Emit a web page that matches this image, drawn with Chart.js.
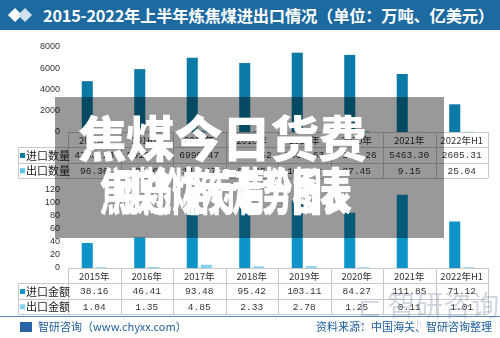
<!DOCTYPE html>
<html><head><meta charset="utf-8">
<script src="https://cdn.jsdelivr.net/npm/chart.js@4.4.0/dist/chart.umd.min.js"></script>
<style>
html,body{margin:0;padding:0;background:#fff;width:500px;height:338px;overflow:hidden;position:relative;font-family:"Noto Sans CJK SC",sans-serif}
#title{position:absolute;left:0;top:0;width:500px;height:30px;background:#1d6aa0;color:#fff;font-weight:bold;font-size:16.3px;line-height:30px;white-space:nowrap}
#title span{position:absolute;left:43px;top:0;letter-spacing:-0.2px}
.dia{position:absolute;width:10px;height:10px;transform:rotate(45deg)}
canvas{position:absolute;left:0}
#c1{top:30px}
#c2{top:176px}
#ov{position:absolute;left:55px;top:97px;width:389px;height:141px;background:rgba(0,0,0,0.4)}
.big{position:absolute;color:#fff;font-weight:900;white-space:nowrap}
#line{position:absolute;left:0;top:316px;width:500px;height:1px;background:#5b88b8}
#f1{position:absolute;left:20px;top:318px;font-size:11px;color:#1f5f9a;white-space:nowrap}
#f2{position:absolute;right:8px;top:318px;font-size:11px;color:#1f5f9a;white-space:nowrap}
.wm{position:absolute;color:rgba(120,140,170,0.35);white-space:nowrap}
</style></head><body>
<div id="title"><div class="dia" style="left:10px;top:10px;background:#fff"></div><div class="dia" style="left:20px;top:10px;background:#cfe0ee"></div><span>2015-2022年上半年炼焦煤进出口情况（单位：万吨、亿美元）</span></div>
<canvas id="c1" width="500" height="150"></canvas>
<canvas id="c2" width="500" height="140"></canvas>
<div class="wm" style="left:358px;top:284px;font-size:28px;">⊏ 智研咨询</div>
<div class="wm" style="left:340px;top:316px;font-size:10px;letter-spacing:9px;">www.chyxx.com</div>
<div id="line"></div>
<div id="f1"><span style="display:inline-block;width:12px;height:10px;background:#2a62a8;vertical-align:-1px;margin-right:6px"></span>智研咨询（www.chyxx.com）</div>
<div id="f2">资料来源：中国海关、智研咨询整理</div>
<div id="ov"></div>
<div class="big" style="left:78px;top:108px;font-size:49px;line-height:56px;letter-spacing:-1px">焦煤今日货费</div>
<div class="big" style="left:100px;top:160px;font-size:50px;line-height:56px;transform:scaleX(0.55);transform-origin:0 0">焦煤价格行情分析表</div>
<div class="big" style="left:112px;top:160px;font-size:50px;line-height:56px;transform:scaleX(0.6);transform-origin:0 0">用途煤炭走势图表</div>
<script>
const categories = ['2015年','2016年','2017年','2018年','2019年','2020年','2021年','2022年H1'];
const importQty = [4783.23, 5919.64, 6990.47, 6491.52, 7466.63, 7257.26, 5463.30, 2605.31];
const exportQty = [96.36, 120.61, 143.47, 99.85, 100.52, 87.45, 9.15, 25.04];
const importAmt = [38.16, 46.41, 93.48, 95.42, 103.11, 84.27, 111.85, 71.12];
const exportAmt = [1.04, 1.35, 4.85, 2.33, 2.78, 1.25, 0.11, 1.01];
const qtyLabels = ['进口数量','出口数量'];
const amtLabels = ['进口金额','出口金额'];

function tablePlugin(rowsDef){
  return {id:'tbl',afterDraw(chart){
    const ctx=chart.ctx, x=chart.scales.x, a=chart.chartArea;
    const n=categories.length, w=(a.right-a.left)/n, rh=15.3;
    const top=a.bottom, lx=18;
    ctx.save();
    ctx.strokeStyle='#c8c8c8'; ctx.lineWidth=1;
    const ys=[top, top+rh, top+2*rh, top+3*rh];
    ctx.beginPath();
    ctx.moveTo(a.left,Math.round(ys[0])+0.5); ctx.lineTo(a.right,Math.round(ys[0])+0.5);
    for(let i=1;i<4;i++){ctx.moveTo(lx,Math.round(ys[i])+0.5); ctx.lineTo(a.right,Math.round(ys[i])+0.5);}
    for(let i=0;i<=n;i++){const xx=Math.round(a.left+i*w)+0.5; ctx.moveTo(xx,ys[0]); ctx.lineTo(xx,ys[3]);}
    ctx.moveTo(lx+0.5,ys[1]); ctx.lineTo(lx+0.5,ys[3]);
    ctx.stroke();
    ctx.fillStyle='#333'; ctx.textAlign='center'; ctx.textBaseline='middle';
    ctx.font='9.5px "Noto Sans CJK SC"';
    categories.forEach((c,i)=>{ctx.fillText(c, x.getPixelForValue(i), ys[0]+rh/2+1);});
    rowsDef.forEach((r,ri)=>{
      const yy=ys[ri+1]+rh/2+1;
      ctx.fillStyle=r.color; ctx.fillRect(lx+2, yy-3, 5, 5);
      ctx.fillStyle='#222'; ctx.textAlign='left'; ctx.font='11px "Noto Sans CJK SC"';
      ctx.fillText(r.label, lx+8, yy);
      ctx.textAlign='center'; ctx.font='9.5px "Liberation Mono"'; ctx.fillStyle='#333';
      r.data.forEach((v,i)=>ctx.fillText(v.toFixed(2), x.getPixelForValue(i), yy));
    });
    ctx.restore();
  }};
}

function makeChart(id, rows, max, step, padTop){
  return new Chart(document.getElementById(id),{
    type:'bar',
    data:{labels:categories,datasets:rows.map(r=>({label:r.label,data:r.data,backgroundColor:r.color,categoryPercentage:0.533,barPercentage:0.79}))},
    options:{responsive:false,maintainAspectRatio:false,animation:false,devicePixelRatio:1,
      layout:{padding:{top:padTop,bottom:48,right:12,left:0}},
      plugins:{legend:{display:false},tooltip:{enabled:false}},
      scales:{
        x:{display:false,offset:true},
        y:{min:0,max:max,ticks:{stepSize:step,padding:8,color:'#333',font:{family:'Liberation Sans',size:9},callback:v=>String(v)},
          grid:{display:false,drawTicks:false},border:{display:false},
          afterFit(s){s.width=68;}}
      }},
    plugins:[tablePlugin(rows)]
  });
}
makeChart('c1',[{label:qtyLabels[0],data:importQty,color:'#0b7aa6'},{label:qtyLabels[1],data:exportQty,color:'#5cc4ea'}],8000,1000,17);
makeChart('c2',[{label:amtLabels[0],data:importAmt,color:'#0e93c8'},{label:amtLabels[1],data:exportAmt,color:'#80d4f2'}],120,20,8);
</script>
</body></html>
